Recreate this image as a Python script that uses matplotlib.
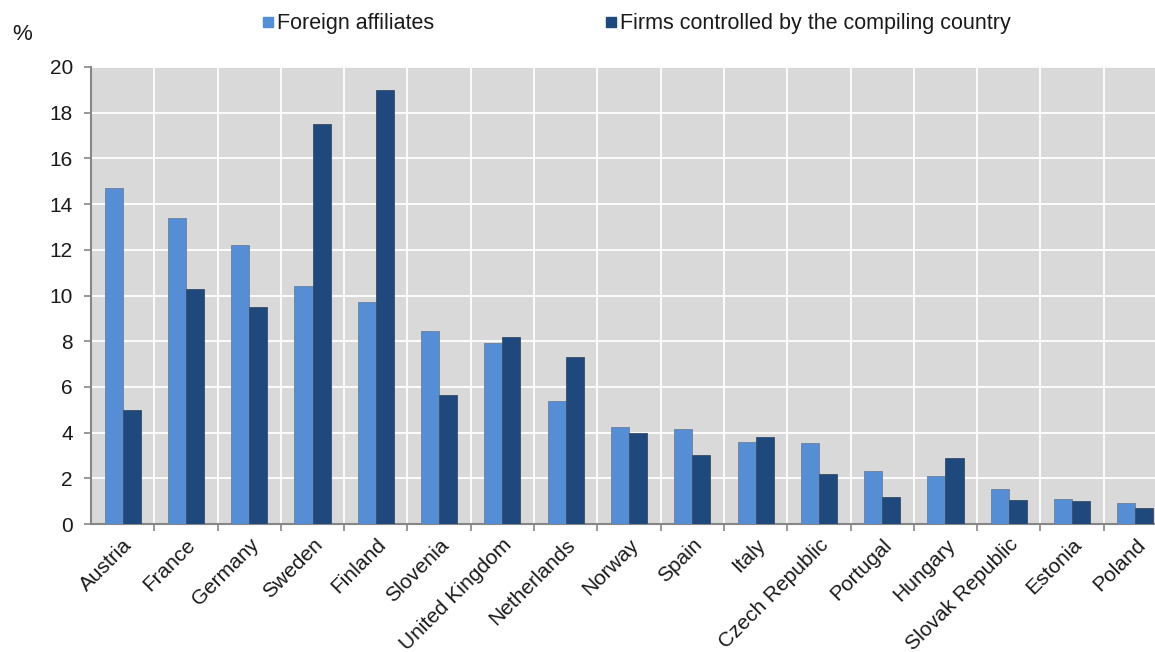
import matplotlib.pyplot as plt
import numpy as np

plt.rcParams['font.family'] = ['Liberation Sans', 'DejaVu Sans']

countries = ['Austria', 'France', 'Germany', 'Sweden', 'Finland', 'Slovenia',
             'United Kingdom', 'Netherlands', 'Norway', 'Spain', 'Italy',
             'Czech Republic', 'Portugal', 'Hungary', 'Slovak Republic',
             'Estonia', 'Poland']
foreign = [14.7, 13.4, 12.2, 10.4, 9.7, 8.45, 7.9, 5.4, 4.25, 4.15, 3.6,
           3.55, 2.3, 2.1, 1.55, 1.1, 0.9]
domestic = [5.0, 10.3, 9.5, 17.5, 19.0, 5.65, 8.2, 7.3, 4.0, 3.0, 3.8,
            2.2, 1.2, 2.9, 1.05, 1.0, 0.7]

light = '#558ed5'
dark = '#1f497d'
txt = '#1a1a1a'

fig = plt.figure(figsize=(11.55, 6.52), dpi=100)
# the plot area runs past the right edge of the figure
ax = fig.add_axes([91 / 1155, 128 / 652, 1076 / 1155, 457 / 652])
ax.set_facecolor('#d9d9d9')

x = np.arange(len(countries))
w = 0.285
ax.bar(x - w / 2, foreign, w, color=light, edgecolor='#6a7f99', linewidth=0.6, zorder=3)
ax.bar(x + w / 2, domestic, w, color=dark, edgecolor='#3a4d66', linewidth=0.6, zorder=3)

ax.set_xlim(-0.5, len(countries) - 0.5)
ax.set_ylim(0, 20)
ax.set_yticks(np.arange(0, 21, 2))
ax.set_xticks(x)
ax.set_xticklabels(countries, rotation=45, ha='right', rotation_mode='anchor')
ax.set_xticks(x[:-1] + 0.5, minor=True)
ax.tick_params(axis='x', which='major', length=0, labelsize=15, pad=8, labelcolor=txt)
ax.tick_params(axis='x', which='minor', length=5, color='#868686', width=1.2)
ax.tick_params(axis='y', length=5, color='#868686', width=1.2, labelsize=15, pad=8,
               labelcolor=txt)

ax.grid(True, which='minor', axis='x', color='white', linewidth=1.3, zorder=1)
ax.grid(True, which='major', axis='y', color='white', linewidth=1.3, zorder=1)
ax.set_axisbelow(True)

for side in ['top', 'right']:
    ax.spines[side].set_visible(False)
for side in ['left', 'bottom']:
    ax.spines[side].set_color('#868686')
    ax.spines[side].set_linewidth(1.5)

fig.text(12 / 1155, 1 - 40 / 652, '%', fontsize=16, color=txt)

# legend drawn along the top edge
for xp, col, label in [(263, light, 'Foreign affiliates'),
                       (606, dark, 'Firms controlled by the compiling country')]:
    fig.patches.append(plt.Rectangle((xp / 1155, 1 - 27 / 652), 10 / 1155, 10 / 652,
                                     transform=fig.transFigure, color=col))
    fig.text((xp + 14) / 1155, 1 - 29 / 652, label, fontsize=15.5, va='baseline',
             color=txt)

fig.savefig('out.png', dpi=100)
